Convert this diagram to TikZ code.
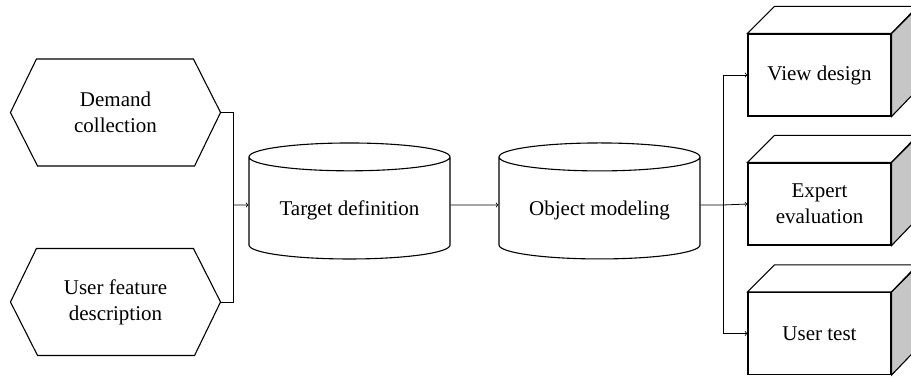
\documentclass[tikz,border=0pt]{standalone}
\usepackage{fontspec}
\setmainfont{Liberation Serif}
\usepackage{tikz}
\usetikzlibrary{shapes.geometric}
\tikzstyle{hexa}=[rectangle, line width=1.1pt, minimum width=209pt, minimum height=107pt, align=center]
\tikzstyle{drum}=[cylinder, shape border rotate=90, aspect=0.19, draw, line width=1.1pt, minimum width=201pt, minimum height=116pt]
\tikzstyle{block}=[rectangle, draw, line width=1.1pt, fill=white, minimum width=143pt, minimum height=82pt, align=center]
\tikzstyle{link}=[line width=0.8pt]

\begin{document}
\begin{tikzpicture}[x=1pt, y=-1pt, font=\fontsize{21}{26}\selectfont]
                    \useasboundingbox (0,0) rectangle (911,379);
                    \node[hexa] (dem) at (115.5, 112.5) {Demand\\collection};
                    \node[hexa] (usr) at (115.5, 302) {User feature\\description};
                    \foreach \h in {dem, usr} {
                        \draw[line width=1.1pt] (\h.west) -- ++(26,-53.5) -- ++(157,0) -- (\h.east) -- ++(-26,53.5) -- ++(-157,0) -- cycle;
                    }
                    \node[drum] (tgt) at (349.5, 210) {Target definition};
                    \node[drum] (obj) at (599.5, 210) {Object modeling};
                    \node[block] (view) at (819.5, 75)    {View design};
                    \node[block] (expt) at (819.5, 204)   {Expert\\evaluation};
                    \node[block] (test) at (819.5, 333.5) {User test};
                    \foreach \b in {view, expt, test} {
                        \draw[line width=1.1pt, fill=white] (\b.north west) -- ++(27,-27) -- ++(143,0) -- (\b.north east) -- cycle;
                        \draw[line width=1.1pt, fill=gray!45] (\b.north east) -- ++(27,-27) -- ++(0,82) -- (\b.south east) -- cycle;
                    }
                    \coordinate (jl) at (233, 205);
                    \coordinate (jr) at (723, 205);
                    \draw[link] (dem.east) -| (jl) (usr.east) -| (jl);
                    \draw[link, ->] (jl) to ([yshift=5pt]tgt.west);
                    \draw[link, ->] ([yshift=5pt]tgt.east) to ([yshift=5pt]obj.west);
                    \draw[link] ([yshift=5pt]obj.east) to (jr);
                    \draw[link, ->] (jr) |- (view.west);
                    \draw[link, ->] (jr) to (expt.west);
                    \draw[link, ->] (jr) |- (test.west);
                \end{tikzpicture}
\end{document}
